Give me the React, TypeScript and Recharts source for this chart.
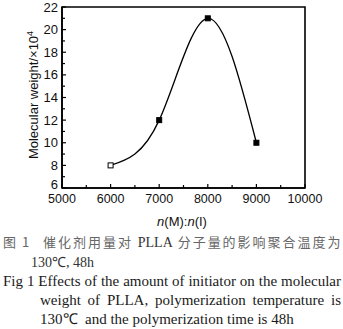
import React from "react"
import { LineChart, Line, XAxis, YAxis, ReferenceArea } from "recharts"

// n(M):n(I) ratio vs molecular weight (x10^4)
const ratios = [6000, 7000, 8000, 9000]
const weights = [8, 12, 21, 10]

const xTicks = [5000, 5500, 6000, 6500, 7000, 7500, 8000, 8500, 9000, 9500, 10000]
const yTicks = [6, 7, 8, 9, 10, 11, 12, 13, 14, 15, 16, 17, 18, 19, 20, 21, 22]

const chartData = ratios.map((r, i) => ({ ratio: r, weight: weights[i] }))

const AXIS_FONT = "Arial, 'Liberation Sans', sans-serif"

function XTick(props: any) {
  const { x, y, payload } = props
  const major = payload.value % 1000 === 0
  return (
    <g>
      <line x1={x} y1={y} x2={x} y2={y - (major ? 4 : 3)} stroke="#000" strokeWidth={1.2} />
      {major && (
        <text x={x} y={y + 11} dy="0.35em" textAnchor="middle" fontSize={12.5} fontFamily={AXIS_FONT} fill="#111">
          {payload.value}
        </text>
      )}
    </g>
  )
}

function YTick(props: any) {
  const { x, y, payload } = props
  const major = payload.value % 2 === 0
  // bottom label sits a little higher so it clears the 5000 label
  const ty = payload.value === 6 ? y - 4 : y
  return (
    <g>
      <line x1={x} y1={y} x2={x + (major ? 4 : 3)} y2={y} stroke="#000" strokeWidth={1.2} />
      {major && (
        <text x={x - 4} y={ty} dy="0.35em" textAnchor="end" fontSize={13} fontFamily={AXIS_FONT} fill="#111">
          {payload.value}
        </text>
      )}
    </g>
  )
}

function SquareDot(props: any) {
  const { cx, cy, index } = props
  if (cx == null || cy == null) return null
  return (
    <rect
      key={index}
      x={cx - 2.5}
      y={cy - 2.5}
      width={5}
      height={5}
      fill={index === 0 ? "#fff" : "#000"}
      stroke="#000"
      strokeWidth={1}
    />
  )
}

const zh = { fontFamily: "'Noto Sans CJK SC', sans-serif", fontSize: 13, color: "#666", letterSpacing: 1.5 }
const en = { fontFamily: "'Liberation Serif', 'Times New Roman', serif", fontSize: 15, color: "#1a1a1a" }

export default function App() {
  return (
    <div style={{ position: "absolute", left: 0, top: 0, width: 343, height: 329, background: "#fff" }}>
      <LineChart width={343} height={230} data={chartData} margin={{ top: 7, right: 38, bottom: 0, left: 0 }}>
        <XAxis
          dataKey="ratio"
          type="number"
          domain={[5000, 10000]}
          ticks={xTicks}
          interval={0}
          tickSize={0}
          tickMargin={0}
          height={42}
          tick={<XTick />}
          axisLine={{ stroke: "#000", strokeWidth: 1.6 }}
          tickLine={false}
          label={{
            content: () => (
              <text x={182} y={221} dy="0.35em" textAnchor="middle" fontSize={13} fontFamily={AXIS_FONT} fill="#111">
                <tspan fontStyle="italic">n</tspan>
                <tspan>(M):</tspan>
                <tspan fontStyle="italic">n</tspan>
                <tspan>(I)</tspan>
              </text>
            ),
          }}
        />
        <YAxis
          type="number"
          domain={[6, 22]}
          ticks={yTicks}
          interval={0}
          tickSize={0}
          tickMargin={0}
          width={62}
          tick={<YTick />}
          axisLine={{ stroke: "#000", strokeWidth: 1.6 }}
          tickLine={false}
          label={{
            content: () => (
              <text
                x={33}
                y={95}
                transform="rotate(-90 33 95)"
                dy="0.35em"
                textAnchor="middle"
                fontSize={13}
                fontFamily={AXIS_FONT}
                fill="#111"
              >
                Molecular weight/×10
                <tspan dy={-5} fontSize={9}>4</tspan>
              </text>
            ),
          }}
        />
        <ReferenceArea x1={5000} x2={10000} y1={6} y2={22} fill="none" stroke="#000" strokeWidth={1.6} ifOverflow="visible" />
        <Line
          type="natural"
          dataKey="weight"
          stroke="#000"
          strokeWidth={1.3}
          dot={<SquareDot />}
          activeDot={false}
          isAnimationActive={false}
        />
      </LineChart>

      <div style={{ position: "absolute", left: 3, top: 232, width: 340, ...zh }}>
        <span style={{ position: "absolute", left: 0 }}>图 1</span>
        <div style={{ position: "absolute", left: 40, width: 299, textAlign: "justify", textAlignLast: "justify", whiteSpace: "nowrap" as const }}>
          催化剂用量对 <span style={{ ...en, fontSize: 14, color: "#333", letterSpacing: 0 }}>PLLA</span> 分子量的影响聚合温度为
        </div>
      </div>
      <div style={{ position: "absolute", left: 31, top: 252, ...en, fontSize: 14, color: "#333" }}>130℃, 48h</div>

      <div style={{ position: "absolute", left: 3, top: 272, width: 338, textAlign: "justify", textAlignLast: "justify", lineHeight: "19px", ...en }}>
        Fig 1 Effects of the amount of initiator on the molecular
      </div>
      <div style={{ position: "absolute", left: 40, top: 291, width: 301, textAlign: "justify", textAlignLast: "justify", lineHeight: "19px", ...en }}>
        weight of PLLA, polymerization temperature is
      </div>
      <div style={{ position: "absolute", left: 40, top: 310, lineHeight: "19px", ...en }}>
        130℃&nbsp;&nbsp;and the polymerization time is 48h
      </div>
    </div>
  )
}
